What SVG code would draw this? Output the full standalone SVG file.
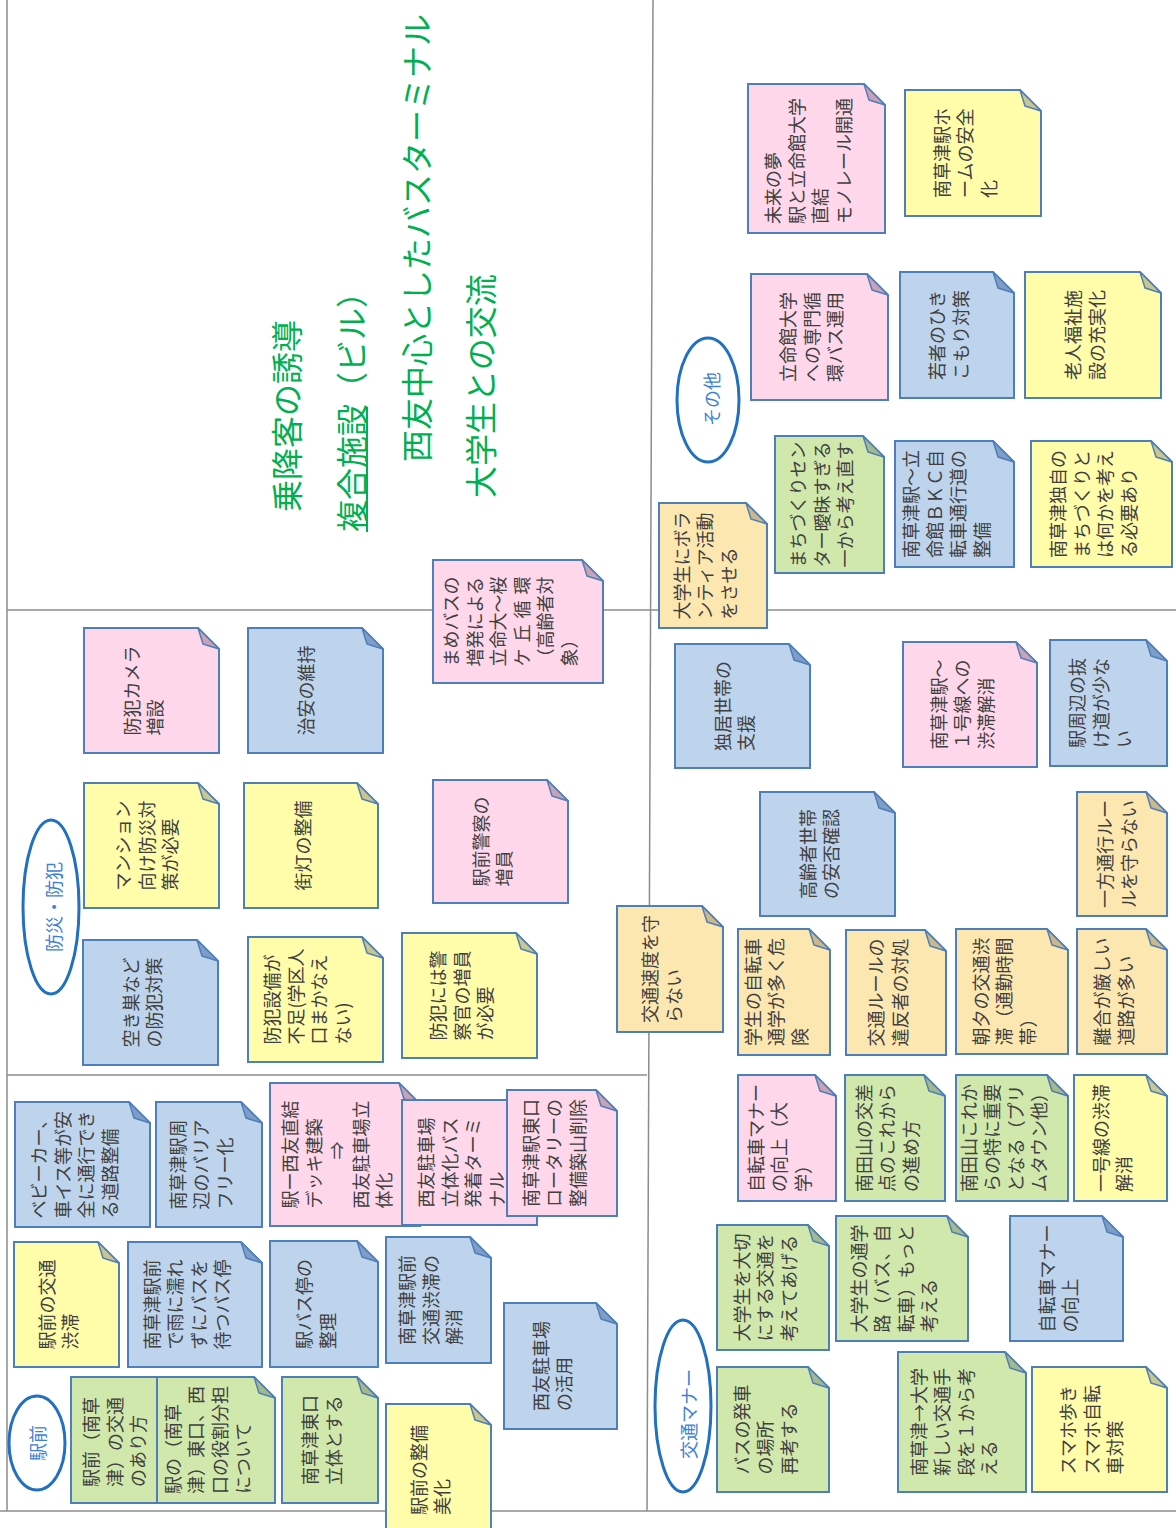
<svg xmlns="http://www.w3.org/2000/svg" width="1176" height="1528" viewBox="0 0 1176 1528">
<style>
.b{stroke:#4f7fba;stroke-width:2;stroke-linejoin:miter}
.f{stroke:#4f7fba;stroke-width:1.5;stroke-linejoin:round}
.pk{fill:#ffd7ea}.bl{fill:#bed4ed}.yl{fill:#fffcaa}.gr{fill:#d1e8ad}.or{fill:#fde7b1}
.fpk{fill:#c9a2b6}.fbl{fill:#7f9dc6}.fyl{fill:#c9c78f}.fgr{fill:#a6b98b}.for{fill:#cdb888}
.t{font-family:"Noto Sans CJK JP","Noto Sans CJK SC",sans-serif;font-size:18px;fill:#404040;dominant-baseline:central}
.lab{font-family:"Noto Sans CJK JP",sans-serif;font-size:18px;fill:#3f7fd8;dominant-baseline:central;text-anchor:middle}
.ell{fill:#fff;stroke:#2270c0;stroke-width:3}
.ttl{font-family:"Noto Sans CJK JP",sans-serif;font-size:32px;fill:#00b050;dominant-baseline:central}
.g{stroke:#8c8c8c;stroke-width:1.5;fill:none}
</style>
<rect width="1176" height="1528" fill="#fff"/>
<g id="grid">
<line class="g" x1="7" y1="0" x2="7" y2="1511" stroke="#6e6e6e" stroke-width="2"/>
<line class="g" x1="653" y1="0" x2="647" y2="1511"/>
<line class="g" x1="7" y1="610" x2="1176" y2="610"/>
<line class="g" x1="7" y1="1075" x2="647" y2="1075" stroke="#8496b0"/>
<line class="g" x1="0" y1="1511" x2="1176" y2="1511" stroke="#6e6e6e"/>
</g>
<g id="titles">
<text class="ttl" transform="translate(285,512) rotate(-90)">乗降客の誘導</text>
<text class="ttl" transform="translate(350,532) rotate(-90)" font-size="31">複合施設（ビル）</text>
<line x1="367" y1="532" x2="367" y2="407" stroke="#00b050" stroke-width="2"/>
<text class="ttl" transform="translate(415,462) rotate(-90)">西友中心としたバスターミナル</text>
<text class="ttl" transform="translate(479,498) rotate(-90)">大学生との交流</text>
</g>
<g id="lbl-ekimae"><ellipse class="ell" cx="37" cy="1443" rx="28" ry="47"/><text class="lab" transform="translate(37,1443) rotate(-90)">駅前</text></g>
<g id="lbl-bousai"><ellipse class="ell" cx="51" cy="907" rx="28" ry="87"/><text class="lab" transform="translate(53,907) rotate(-90)">防災・防犯</text></g>
<g id="lbl-sonota"><ellipse class="ell" cx="708" cy="400" rx="31" ry="62"/><text class="lab" transform="translate(711,399) rotate(-90)">その他</text></g>
<g id="lbl-manner"><ellipse class="ell" cx="683" cy="1406" rx="28" ry="86"/><text class="lab" transform="translate(688,1414) rotate(-90)">交通マナー</text></g>

<g id="n1" transform="translate(15,1102)"><path class="b bl" d="M0,0H114L135,21V125H0Z"/><path class="f fbl" d="M114,0L119,16L135,21Z"/><text class="t" transform="translate(23.25,116.5) rotate(-90)"><tspan x="0" y="0">ベビーカー、</tspan><tspan x="0" y="23.5">車イス等が安</tspan><tspan x="0" y="47">全に通行でき</tspan><tspan x="0" y="70.5">る道路整備</tspan></text></g>
<g id="n2" transform="translate(156,1102)"><path class="b bl" d="M0,0H85L106,21V125H0Z"/><path class="f fbl" d="M85,0L90,16L106,21Z"/><text class="t" transform="translate(20.5,107.5) rotate(-90)"><tspan x="0" y="0">南草津駅周</tspan><tspan x="0" y="23.5">辺のバリア</tspan><tspan x="0" y="47">フリー化</tspan></text></g>
<g id="n3" transform="translate(14,1242)"><path class="b yl" d="M0,0H84L105,21V125H0Z"/><path class="f fyl" d="M84,0L89,16L105,21Z"/><text class="t" transform="translate(31.75,107.5) rotate(-90)"><tspan x="0" y="0">駅前の交通</tspan><tspan x="0" y="23.5">渋滞</tspan></text></g>
<g id="n4" transform="translate(128,1242)"><path class="b bl" d="M0,0H113L134,21V125H0Z"/><path class="f fbl" d="M113,0L118,16L134,21Z"/><text class="t" transform="translate(22.75,107.5) rotate(-90)"><tspan x="0" y="0">南草津駅前</tspan><tspan x="0" y="23.5">で雨に濡れ</tspan><tspan x="0" y="47">ずにバスを</tspan><tspan x="0" y="70.5">待つバス停</tspan></text></g>
<g id="n5" transform="translate(71,1377)"><path class="b gr" d="M0,0H129L150,21V126H0Z"/><path class="f fgr" d="M129,0L134,16L150,21Z"/><text class="t" transform="translate(19,110) rotate(-90)"><tspan x="0" y="0">駅前（南草</tspan><tspan x="0" y="23.5">津）の交通</tspan><tspan x="0" y="47">のあり方</tspan></text></g>
<g id="n6" transform="translate(157,1377)"><path class="b gr" d="M0,0H97L118,21V126H0Z"/><path class="f fgr" d="M97,0L102,16L118,21Z"/><text class="t" transform="translate(14.75,117) rotate(-90)"><tspan x="0" y="0">駅の（南草</tspan><tspan x="0" y="23.5">津）東口、西</tspan><tspan x="0" y="47">口の役割分担</tspan><tspan x="0" y="70.5">について</tspan></text></g>
<g id="n7" transform="translate(270,1083)"><path class="b pk" d="M0,0H129L150,21V143H0Z"/><path class="f fpk" d="M129,0L134,16L150,21Z"/><text class="t" transform="translate(19,125.5) rotate(-90)"><tspan x="0" y="0">駅ー西友直結</tspan><tspan x="0" y="23.5">デッキ建築</tspan><tspan x="58" y="47" text-anchor="middle">⇒</tspan><tspan x="0" y="70.5">西友駐車場立</tspan><tspan x="0" y="94">体化</tspan></text></g>
<g id="n8" transform="translate(402,1100)"><path class="b pk" d="M0,0H114L135,21V125H0Z"/><path class="f fpk" d="M114,0L119,16L135,21Z"/><text class="t" transform="translate(23.25,107.5) rotate(-90)"><tspan x="0" y="0">西友駐車場</tspan><tspan x="0" y="23.5">立体化バス</tspan><tspan x="0" y="47">発着ターミ</tspan><tspan x="0" y="70.5">ナル</tspan></text></g>
<g id="n9" transform="translate(507,1090)"><path class="b pk" d="M0,0H89L110,21V126H0Z"/><path class="f fpk" d="M89,0L94,16L110,21Z"/><text class="t" transform="translate(22.5,117) rotate(-90)"><tspan x="0" y="0">南草津駅東口</tspan><tspan x="0" y="23.5">ロータリーの</tspan><tspan x="0" y="47">整備築山削除</tspan></text></g>
<g id="n10" transform="translate(270,1241)"><path class="b bl" d="M0,0H87L108,21V126H0Z"/><path class="f fbl" d="M87,0L92,16L108,21Z"/><text class="t" transform="translate(33.25,108) rotate(-90)"><tspan x="0" y="0">駅バス停の</tspan><tspan x="0" y="23.5">整理</tspan></text></g>
<g id="n11" transform="translate(386,1237)"><path class="b bl" d="M0,0H84L105,21V126H0Z"/><path class="f fbl" d="M84,0L89,16L105,21Z"/><text class="t" transform="translate(20,108) rotate(-90)"><tspan x="0" y="0">南草津駅前</tspan><tspan x="0" y="23.5">交通渋滞の</tspan><tspan x="0" y="47">解消</tspan></text></g>
<g id="n12" transform="translate(282,1377)"><path class="b gr" d="M0,0H75L96,21V126H0Z"/><path class="f fgr" d="M75,0L80,16L96,21Z"/><text class="t" transform="translate(27.25,108) rotate(-90)"><tspan x="0" y="0">南草津東口</tspan><tspan x="0" y="23.5">立体とする</tspan></text></g>
<g id="n13" transform="translate(386,1404)"><path class="b yl" d="M0,0H84L105,21V132H0Z"/><path class="f fyl" d="M84,0L89,16L105,21Z"/><text class="t" transform="translate(31.75,111) rotate(-90)"><tspan x="0" y="0">駅前の整備</tspan><tspan x="0" y="23.5">美化</tspan></text></g>
<g id="n14" transform="translate(504,1303)"><path class="b bl" d="M0,0H92L113,21V126H0Z"/><path class="f fbl" d="M92,0L97,16L113,21Z"/><text class="t" transform="translate(35.75,108) rotate(-90)"><tspan x="0" y="0">西友駐車場</tspan><tspan x="0" y="23.5">の活用</tspan></text></g>

<g id="n15" transform="translate(84,628)"><path class="b pk" d="M0,0H114L135,21V125H0Z"/><path class="f fpk" d="M114,0L119,16L135,21Z"/><text class="t" transform="translate(46.75,107.5) rotate(-90)"><tspan x="0" y="0">防犯カメラ</tspan><tspan x="0" y="23.5">増設</tspan></text></g>
<g id="n16" transform="translate(248,628)"><path class="b bl" d="M0,0H114L135,21V125H0Z"/><path class="f fbl" d="M114,0L119,16L135,21Z"/><text class="t" transform="translate(57,107.5) rotate(-90)"><tspan x="0" y="0">治安の維持</tspan></text></g>
<g id="n17" transform="translate(84,783)"><path class="b yl" d="M0,0H114L135,21V125H0Z"/><path class="f fyl" d="M114,0L119,16L135,21Z"/><text class="t" transform="translate(38,107.5) rotate(-90)"><tspan x="0" y="0">マンション</tspan><tspan x="0" y="23.5">向け防災対</tspan><tspan x="0" y="47">策が必要</tspan></text></g>
<g id="n18" transform="translate(244,783)"><path class="b yl" d="M0,0H113L134,21V125H0Z"/><path class="f fyl" d="M113,0L118,16L134,21Z"/><text class="t" transform="translate(58,107.5) rotate(-90)"><tspan x="0" y="0">街灯の整備</tspan></text></g>
<g id="n19" transform="translate(83,940)"><path class="b bl" d="M0,0H114L135,21V125H0Z"/><path class="f fbl" d="M114,0L119,16L135,21Z"/><text class="t" transform="translate(46.75,107.5) rotate(-90)"><tspan x="0" y="0">空き巣など</tspan><tspan x="0" y="23.5">の防犯対策</tspan></text></g>
<g id="n20" transform="translate(248,937)"><path class="b yl" d="M0,0H114L135,21V125H0Z"/><path class="f fyl" d="M114,0L119,16L135,21Z"/><text class="t" transform="translate(23.25,107.5) rotate(-90)"><tspan x="0" y="0">防犯設備が</tspan><tspan x="0" y="23.5">不足(学区人</tspan><tspan x="0" y="47">口まかなえ</tspan><tspan x="0" y="70.5">ない)</tspan></text></g>
<g id="n21" transform="translate(433,560)"><path class="b pk" d="M0,0H149L170,21V123H0Z"/><path class="f fpk" d="M149,0L154,16L170,21Z"/><text class="t" transform="translate(17.25,106.5) rotate(-90)"><tspan x="0" y="0">まめバスの</tspan><tspan x="0" y="23.5">増発による</tspan><tspan x="0" y="47">立命大～桜</tspan><tspan x="0" y="70.5" letter-spacing="6">ケ丘循環</tspan><tspan x="0" y="94">（高齢者対</tspan><tspan x="0" y="117.5">象）</tspan></text></g>
<g id="n22" transform="translate(433,780)"><path class="b pk" d="M0,0H114L135,21V123H0Z"/><path class="f fpk" d="M114,0L119,16L135,21Z"/><text class="t" transform="translate(46.75,106.5) rotate(-90)"><tspan x="0" y="0">駅前警察の</tspan><tspan x="0" y="23.5">増員</tspan></text></g>
<g id="n23" transform="translate(402,933)"><path class="b yl" d="M0,0H114L135,21V125H0Z"/><path class="f fyl" d="M114,0L119,16L135,21Z"/><text class="t" transform="translate(35,107.5) rotate(-90)"><tspan x="0" y="0">防犯には警</tspan><tspan x="0" y="23.5">察官の増員</tspan><tspan x="0" y="47">が必要</tspan></text></g>

<g id="n24" transform="translate(617,906)"><path class="b or" d="M0,0H85L106,21V126H0Z"/><path class="f for" d="M85,0L90,16L106,21Z"/><text class="t" transform="translate(32.25,117) rotate(-90)"><tspan x="0" y="0">交通速度を守</tspan><tspan x="0" y="23.5">らない</tspan></text></g>
<g id="n25" transform="translate(675,644)"><path class="b bl" d="M0,0H114L135,21V124H0Z"/><path class="f fbl" d="M114,0L119,16L135,21Z"/><text class="t" transform="translate(46.75,107) rotate(-90)"><tspan x="0" y="0">独居世帯の</tspan><tspan x="0" y="23.5">支援</tspan></text></g>
<g id="n26" transform="translate(659,503)"><path class="b or" d="M0,0H87L108,21V125H0Z"/><path class="f for" d="M87,0L92,16L108,21Z"/><text class="t" transform="translate(21.5,116.5) rotate(-90)"><tspan x="0" y="0">大学生にボラ</tspan><tspan x="0" y="23.5">ンティア活動</tspan><tspan x="0" y="47">をさせる</tspan></text></g>
<g id="n27" transform="translate(760,792)"><path class="b bl" d="M0,0H114L135,21V124H0Z"/><path class="f fbl" d="M114,0L119,16L135,21Z"/><text class="t" transform="translate(46.75,107) rotate(-90)"><tspan x="0" y="0">高齢者世帯</tspan><tspan x="0" y="23.5">の安否確認</tspan></text></g>
<g id="n28" transform="translate(903,642)"><path class="b pk" d="M0,0H113L134,21V125H0Z"/><path class="f fpk" d="M113,0L118,16L134,21Z"/><text class="t" transform="translate(34.5,107.5) rotate(-90)"><tspan x="0" y="0">南草津駅～</tspan><tspan x="0" y="23.5">１号線への</tspan><tspan x="0" y="47">渋滞解消</tspan></text></g>
<g id="n29" transform="translate(1050,640)"><path class="b bl" d="M0,0H96L117,21V126H0Z"/><path class="f fbl" d="M96,0L101,16L117,21Z"/><text class="t" transform="translate(26,108) rotate(-90)"><tspan x="0" y="0">駅周辺の抜</tspan><tspan x="0" y="23.5">け道が少な</tspan><tspan x="0" y="47">い</tspan></text></g>
<g id="n30" transform="translate(1077,792)"><path class="b or" d="M0,0H69L90,21V124H0Z"/><path class="f for" d="M69,0L74,16L90,21Z"/><text class="t" transform="translate(27,116) rotate(-90)"><tspan x="0" y="0">一方通行ルー</tspan><tspan x="0" y="23.5">ルを守らない</tspan></text></g>
<g id="n31" transform="translate(738,929)"><path class="b or" d="M0,0H71L92,21V126H0Z"/><path class="f for" d="M71,0L76,16L92,21Z"/><text class="t" transform="translate(13.5,117) rotate(-90)"><tspan x="0" y="0">学生の自転車</tspan><tspan x="0" y="23.5">通学が多く危</tspan><tspan x="0" y="47">険</tspan></text></g>
<g id="n32" transform="translate(846,930)"><path class="b or" d="M0,0H79L100,21V125H0Z"/><path class="f for" d="M79,0L84,16L100,21Z"/><text class="t" transform="translate(29.25,116.5) rotate(-90)"><tspan x="0" y="0">交通ルールの</tspan><tspan x="0" y="23.5">違反者の対処</tspan></text></g>
<g id="n33" transform="translate(956,929)"><path class="b or" d="M0,0H91L112,21V125H0Z"/><path class="f for" d="M91,0L96,16L112,21Z"/><text class="t" transform="translate(23.5,116.5) rotate(-90)"><tspan x="0" y="0">朝夕の交通渋</tspan><tspan x="0" y="23.5">滞（通勤時間</tspan><tspan x="0" y="47">帯）</tspan></text></g>
<g id="n34" transform="translate(1077,929)"><path class="b or" d="M0,0H69L90,21V125H0Z"/><path class="f for" d="M69,0L74,16L90,21Z"/><text class="t" transform="translate(24.25,116.5) rotate(-90)"><tspan x="0" y="0">離合が厳しい</tspan><tspan x="0" y="23.5">道路が多い</tspan></text></g>

<g id="n35" transform="translate(738,1075)"><path class="b pk" d="M0,0H77L98,21V126H0Z"/><path class="f fpk" d="M77,0L82,16L98,21Z"/><text class="t" transform="translate(16.5,117) rotate(-90)"><tspan x="0" y="0">自転車マナー</tspan><tspan x="0" y="23.5">の向上（大</tspan><tspan x="0" y="47">学）</tspan></text></g>
<g id="n36" transform="translate(845,1075)"><path class="b gr" d="M0,0H79L100,21V126H0Z"/><path class="f fgr" d="M79,0L84,16L100,21Z"/><text class="t" transform="translate(17.5,117) rotate(-90)"><tspan x="0" y="0">南田山の交差</tspan><tspan x="0" y="23.5">点のこれから</tspan><tspan x="0" y="47">の進め方</tspan></text></g>
<g id="n37" transform="translate(956,1075)"><path class="b gr" d="M0,0H91L112,21V126H0Z"/><path class="f fgr" d="M91,0L96,16L112,21Z"/><text class="t" transform="translate(11.75,117) rotate(-90)"><tspan x="0" y="0">南田山これか</tspan><tspan x="0" y="23.5">らの特に重要</tspan><tspan x="0" y="47">となる（プリ</tspan><tspan x="0" y="70.5">ムタウン他）</tspan></text></g>
<g id="n38" transform="translate(1074,1075)"><path class="b yl" d="M0,0H72L93,21V126H0Z"/><path class="f fyl" d="M72,0L77,16L93,21Z"/><text class="t" transform="translate(25.75,117) rotate(-90)"><tspan x="0" y="0">一号線の渋滞</tspan><tspan x="0" y="23.5">解消</tspan></text></g>
<g id="n39" transform="translate(717,1225)"><path class="b gr" d="M0,0H91L112,21V125H0Z"/><path class="f fgr" d="M91,0L96,16L112,21Z"/><text class="t" transform="translate(23.5,116.5) rotate(-90)"><tspan x="0" y="0">大学生を大切</tspan><tspan x="0" y="23.5">にする交通を</tspan><tspan x="0" y="47">考えてあげる</tspan></text></g>
<g id="n40" transform="translate(836,1216)"><path class="b gr" d="M0,0H111L132,21V125H0Z"/><path class="f fgr" d="M111,0L116,16L132,21Z"/><text class="t" transform="translate(21.75,116.5) rotate(-90)"><tspan x="0" y="0">大学生の通学</tspan><tspan x="0" y="23.5">路（バス、自</tspan><tspan x="0" y="47">転車）もっと</tspan><tspan x="0" y="70.5">考える</tspan></text></g>
<g id="n41" transform="translate(1010,1216)"><path class="b bl" d="M0,0H92L113,21V125H0Z"/><path class="f fbl" d="M92,0L97,16L113,21Z"/><text class="t" transform="translate(35.75,116.5) rotate(-90)"><tspan x="0" y="0">自転車マナー</tspan><tspan x="0" y="23.5">の向上</tspan></text></g>
<g id="n43" transform="translate(717,1367)"><path class="b gr" d="M0,0H91L112,21V125H0Z"/><path class="f fgr" d="M91,0L96,16L112,21Z"/><text class="t" transform="translate(23.5,107.5) rotate(-90)"><tspan x="0" y="0">バスの発車</tspan><tspan x="0" y="23.5">の場所</tspan><tspan x="0" y="47">再考する</tspan></text></g>
<g id="n44" transform="translate(898,1352)"><path class="b gr" d="M0,0H107L128,21V140H0Z"/><path class="f fgr" d="M107,0L112,16L128,21Z"/><text class="t" transform="translate(19.75,124) rotate(-90)"><tspan x="0" y="0">南草津→大学</tspan><tspan x="0" y="23.5">新しい交通手</tspan><tspan x="0" y="47">段を１から考</tspan><tspan x="0" y="70.5">える</tspan></text></g>
<g id="n45" transform="translate(1032,1367)"><path class="b yl" d="M0,0H114L135,21V125H0Z"/><path class="f fyl" d="M114,0L119,16L135,21Z"/><text class="t" transform="translate(35,107.5) rotate(-90)"><tspan x="0" y="0">スマホ歩き</tspan><tspan x="0" y="23.5">スマホ自転</tspan><tspan x="0" y="47">車対策</tspan></text></g>

<g id="n46" transform="translate(748,84)"><path class="b pk" d="M0,0H116L137,21V149H0Z"/><path class="f fpk" d="M116,0L121,16L137,21Z"/><text class="t" transform="translate(24.25,140) rotate(-90)"><tspan x="0" y="0">未来の夢</tspan><tspan x="0" y="23.5">駅と立命館大学</tspan><tspan x="0" y="47">直結</tspan><tspan x="0" y="70.5">モノレール開通</tspan></text></g>
<g id="n47" transform="translate(905,90)"><path class="b yl" d="M0,0H115L136,21V126H0Z"/><path class="f fyl" d="M115,0L120,16L136,21Z"/><text class="t" transform="translate(35.5,108) rotate(-90)"><tspan x="0" y="0">南草津駅ホ</tspan><tspan x="0" y="23.5">ームの安全</tspan><tspan x="0" y="47">化</tspan></text></g>
<g id="n49" transform="translate(751,274)"><path class="b pk" d="M0,0H116L137,21V126H0Z"/><path class="f fpk" d="M116,0L121,16L137,21Z"/><text class="t" transform="translate(36,108) rotate(-90)"><tspan x="0" y="0">立命館大学</tspan><tspan x="0" y="23.5">への専門循</tspan><tspan x="0" y="47">環バス運用</tspan></text></g>
<g id="n50" transform="translate(900,272)"><path class="b bl" d="M0,0H93L114,21V126H0Z"/><path class="f fbl" d="M93,0L98,16L114,21Z"/><text class="t" transform="translate(36.25,108) rotate(-90)"><tspan x="0" y="0">若者のひき</tspan><tspan x="0" y="23.5">こもり対策</tspan></text></g>
<g id="n51" transform="translate(1025,272)"><path class="b yl" d="M0,0H115L136,21V126H0Z"/><path class="f fyl" d="M115,0L120,16L136,21Z"/><text class="t" transform="translate(47.25,108) rotate(-90)"><tspan x="0" y="0">老人福祉施</tspan><tspan x="0" y="23.5">設の充実化</tspan></text></g>
<g id="n52" transform="translate(775,436)"><path class="b gr" d="M0,0H88L109,21V137H0Z"/><path class="f fgr" d="M88,0L93,16L109,21Z"/><text class="t" transform="translate(22,131.5) rotate(-90)"><tspan x="0" y="0">まちづくりセン</tspan><tspan x="0" y="23.5">ター曖昧すぎる</tspan><tspan x="0" y="47">一から考え直す</tspan></text></g>
<g id="n53" transform="translate(895,441)"><path class="b bl" d="M0,0H98L119,21V126H0Z"/><path class="f fbl" d="M98,0L103,16L119,21Z"/><text class="t" transform="translate(15.25,117) rotate(-90)"><tspan x="0" y="0">南草津駅～立</tspan><tspan x="0" y="23.5">命館ＢＫＣ自</tspan><tspan x="0" y="47">転車通行道の</tspan><tspan x="0" y="70.5">整備</tspan></text></g>
<g id="n54" transform="translate(1031,441)"><path class="b yl" d="M0,0H120L141,21V126H0Z"/><path class="f fyl" d="M120,0L125,16L141,21Z"/><text class="t" transform="translate(26.25,117) rotate(-90)"><tspan x="0" y="0">南草津独自の</tspan><tspan x="0" y="23.5">まちづくりと</tspan><tspan x="0" y="47">は何かを考え</tspan><tspan x="0" y="70.5">る必要あり</tspan></text></g>
</svg>
